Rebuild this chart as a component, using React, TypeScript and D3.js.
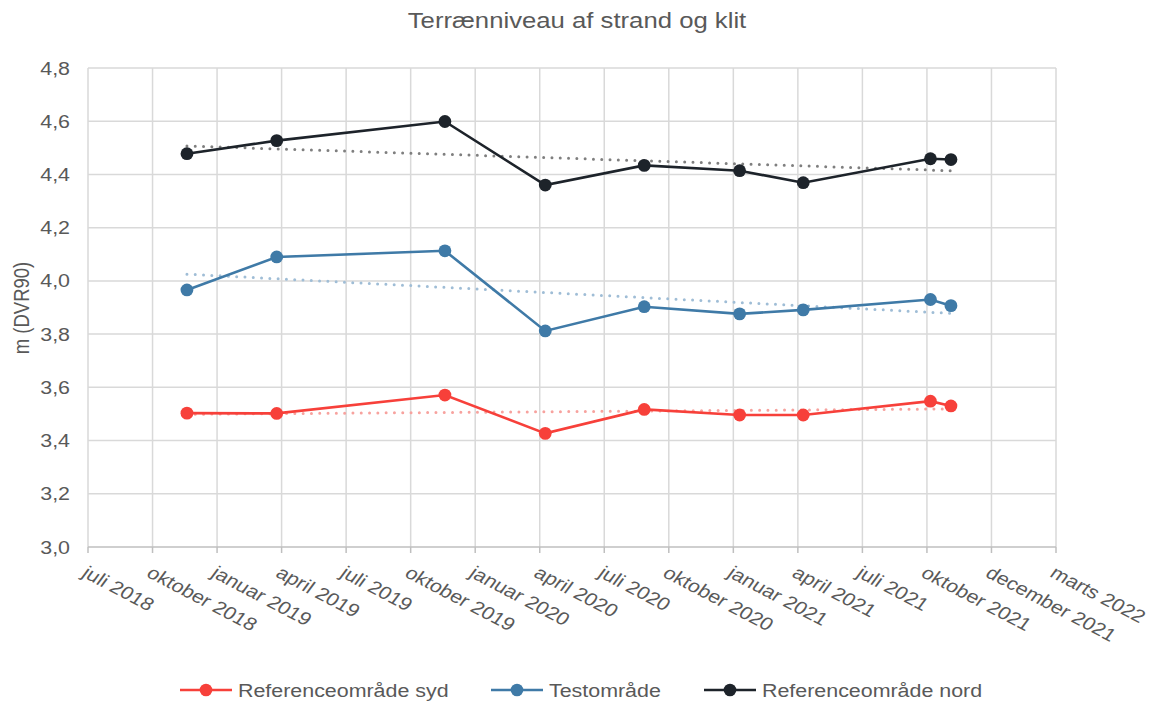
import React from "react";
import * as d3 from "d3";

const W = 1158;
const H = 702;

const chartTitle = "Terrænniveau af strand og klit";
const yAxisTitle = "m (DVR90)";

// x axis: equally spaced date ticks (Excel date axis)
const axisStart = "2018-07-01";
const tickStepDays = 91.31;
const tickLabels = [
  "juli 2018",
  "oktober 2018",
  "januar 2019",
  "april 2019",
  "juli 2019",
  "oktober 2019",
  "januar 2020",
  "april 2020",
  "juli 2020",
  "oktober 2020",
  "januar 2021",
  "april 2021",
  "juli 2021",
  "oktober 2021",
  "december 2021",
  "marts 2022",
];

const yTicks = [3.0, 3.2, 3.4, 3.6, 3.8, 4.0, 4.2, 4.4, 4.6, 4.8];

const sampleDates = [
  "2018-11-18",
  "2019-03-25",
  "2019-11-18",
  "2020-04-08",
  "2020-08-26",
  "2021-01-08",
  "2021-04-08",
  "2021-10-05",
  "2021-11-03",
];

const sydValues = [3.503, 3.502, 3.571, 3.427, 3.517, 3.496, 3.496, 3.548, 3.53];
const testValues = [3.966, 4.09, 4.113, 3.812, 3.903, 3.876, 3.891, 3.93, 3.907];
const nordValues = [4.478, 4.527, 4.599, 4.36, 4.434, 4.414, 4.369, 4.459, 4.456];

const seriesNames = ["Referenceområde syd", "Testområde", "Referenceområde nord"];
const seriesColors = ["#f7403a", "#3f7aa7", "#1d232a"];
const trendColors = ["#f7a29e", "#9fbdd6", "#7f7f7f"];

const FONT = "'Liberation Sans', Arial, sans-serif";
const SX = 1.19; // horizontal stretch of the reference's text

const parse = d3.timeParse("%Y-%m-%d");
const DAY = 864e5;

export default function App() {
  const start = parse(axisStart)!;
  const tickDates = tickLabels.map((_, i) => new Date(start.getTime() + i * tickStepDays * DAY));
  const end = tickDates[tickDates.length - 1];

  const x = d3.scaleTime().domain([start, end]).range([88, 1056]);
  const y = d3.scaleLinear().domain([3.0, 4.8]).range([547, 68]);

  const dates = sampleDates.map((s) => parse(s)!);
  const allSeries = [sydValues, testValues, nordValues];

  const line = d3
    .line<[Date, number]>()
    .x((d) => x(d[0]))
    .y((d) => y(d[1]));

  const trend = (vals: number[]) => {
    const xs = dates.map((d) => (d.getTime() - start.getTime()) / DAY);
    const mx = d3.mean(xs)!;
    const my = d3.mean(vals)!;
    let num = 0;
    let den = 0;
    xs.forEach((xv, i) => {
      num += (xv - mx) * (vals[i] - my);
      den += (xv - mx) * (xv - mx);
    });
    const b = num / den;
    const a = my - b * mx;
    const d0 = dates[0];
    const d1 = dates[dates.length - 1];
    const f = (d: Date) => a + b * ((d.getTime() - start.getTime()) / DAY);
    return [
      [d0, f(d0)],
      [d1, f(d1)],
    ] as [Date, number][];
  };

  const fmt = (v: number) => d3.format(".1f")(v).replace(".", ",");
  const legendX = [180, 491, 704];

  return (
    <svg
      width={W}
      height={H}
      style={{ position: "absolute", left: 0, top: 0, background: "#fff" }}
      fontFamily={FONT}
    >
      <rect x={0} y={0} width={W} height={H} fill="#fff" />
      {/* title */}
      <text
        transform={`translate(577,27.5) scale(${SX},1)`}
        textAnchor="middle"
        fontSize={21.6}
        fill="#595959"
      >
        {chartTitle}
      </text>

      {/* horizontal gridlines */}
      {yTicks.slice(1).map((t) => (
        <line key={"hg" + t} x1={88} x2={1056} y1={y(t)} y2={y(t)} stroke="#d9d9d9" strokeWidth={1.5} />
      ))}
      {/* vertical gridlines */}
      {tickDates.map((d, i) => (
        <line key={"vg" + i} x1={x(d)} x2={x(d)} y1={68} y2={547} stroke="#d9d9d9" strokeWidth={1.5} />
      ))}
      {/* bottom axis */}
      <line x1={88} x2={1056} y1={547} y2={547} stroke="#bfbfbf" strokeWidth={1.5} />
      {tickDates.map((d, i) => (
        <line key={"tk" + i} x1={x(d)} x2={x(d)} y1={547} y2={553} stroke="#bfbfbf" strokeWidth={1.5} />
      ))}

      {/* y tick labels */}
      {yTicks.map((t) => (
        <text
          key={"yl" + t}
          transform={`translate(70,${y(t) + 6.5}) scale(${SX},1)`}
          textAnchor="end"
          fontSize={18}
          fill="#595959"
        >
          {fmt(t)}
        </text>
      ))}

      {/* x tick labels */}
      {tickDates.map((d, i) => (
        <text
          key={"xl" + i}
          transform={`translate(${x(d) + 1},565) scale(${SX},1) rotate(32)`}
          textAnchor="start"
          dy="0.72em"
          fontSize={18}
          fill="#595959"
        >
          {tickLabels[i]}
        </text>
      ))}

      {/* y axis title */}
      <text
        transform={`translate(29,308) scale(${SX},1) rotate(-90)`}
        textAnchor="middle"
        fontSize={18.5}
        fill="#595959"
      >
        {yAxisTitle}
      </text>

      {/* trendlines */}
      {allSeries.map((vals, si) => (
        <path
          key={"tr" + si}
          d={line(trend(vals))!}
          fill="none"
          stroke={trendColors[si]}
          strokeWidth={3}
          strokeLinecap="round"
          strokeDasharray="0 8.3"
        />
      ))}

      {/* series */}
      {allSeries.map((vals, si) => {
        const pts = dates.map((d, i) => [d, vals[i]] as [Date, number]);
        return (
          <g key={"s" + si}>
            <path d={line(pts)!} fill="none" stroke={seriesColors[si]} strokeWidth={2.6} />
            {pts.map((p, i) => (
              <circle key={i} cx={x(p[0])} cy={y(p[1])} r={6.4} fill={seriesColors[si]} />
            ))}
          </g>
        );
      })}

      {/* legend */}
      {seriesNames.map((n, i) => (
        <g key={"lg" + i}>
          <line x1={legendX[i]} x2={legendX[i] + 52} y1={690} y2={690} stroke={seriesColors[i]} strokeWidth={2.6} />
          <circle cx={legendX[i] + 26} cy={690} r={6.3} fill={seriesColors[i]} />
          <text
            transform={`translate(${legendX[i] + 58},696.5) scale(${SX},1)`}
            fontSize={18}
            fill="#595959"
          >
            {n}
          </text>
        </g>
      ))}
    </svg>
  );
}
